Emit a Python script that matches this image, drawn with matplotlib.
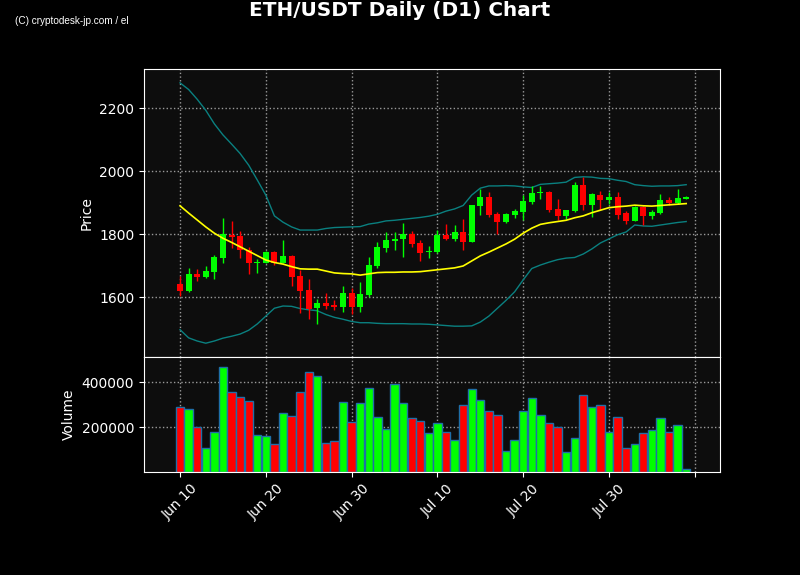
import numpy as np
import pandas as pd
import matplotlib
matplotlib.use('Agg')
import matplotlib.pyplot as plt
import matplotlib.dates as mdates

# daily candles, Jun 10 .. Aug 8
dates = pd.date_range('2023-06-10', periods=60, freq='D')

opens = [1641, 1620, 1673, 1664, 1680, 1725, 1797, 1794, 1751, 1708,
         1709, 1744, 1709, 1730, 1667, 1622, 1566, 1580, 1575, 1569,
         1612, 1569, 1606, 1699, 1757, 1779, 1785, 1800, 1772, 1742,
         1744, 1797, 1784, 1806, 1776, 1890, 1917, 1863, 1839, 1860,
         1871, 1903, 1929, 1933, 1879, 1857, 1874, 1956, 1891, 1924,
         1908, 1917, 1866, 1842, 1887, 1858, 1868, 1908, 1900, 1911]
highs = [1668, 1694, 1691, 1698, 1733, 1850, 1841, 1810, 1760, 1720,
         1747, 1745, 1781, 1733, 1686, 1659, 1594, 1612, 1590, 1637,
         1628, 1647, 1726, 1774, 1807, 1807, 1834, 1810, 1783, 1762,
         1813, 1832, 1828, 1847, 1893, 1943, 1934, 1869, 1866, 1879,
         1924, 1952, 1953, 1938, 1910, 1877, 1966, 1982, 1931, 1937,
         1934, 1934, 1874, 1889, 1889, 1878, 1926, 1919, 1942, 1921]
lows = [1604, 1615, 1652, 1661, 1657, 1710, 1757, 1725, 1672, 1678,
        1707, 1702, 1707, 1635, 1551, 1532, 1514, 1564, 1559, 1553,
        1548, 1553, 1601, 1693, 1744, 1749, 1728, 1760, 1714, 1723,
        1739, 1782, 1779, 1749, 1774, 1860, 1855, 1802, 1834, 1850,
        1844, 1897, 1910, 1869, 1844, 1847, 1871, 1878, 1855, 1878,
        1897, 1847, 1832, 1841, 1829, 1847, 1863, 1892, 1897, 1910]
closes = [1620, 1673, 1664, 1683, 1728, 1799, 1790, 1749, 1709, 1712,
          1744, 1709, 1730, 1665, 1620, 1564, 1580, 1571, 1569, 1612,
          1569, 1609, 1702, 1760, 1781, 1786, 1800, 1770, 1741, 1747,
          1797, 1784, 1806, 1776, 1892, 1917, 1860, 1839, 1863, 1873,
          1905, 1929, 1933, 1878, 1857, 1876, 1956, 1892, 1926, 1908,
          1917, 1860, 1842, 1887, 1857, 1869, 1908, 1900, 1914, 1919]
volumes = [290000, 278500, 198500, 105000, 176000, 465000, 354000, 335000, 314000, 163000,
           158500, 123000, 261000, 247500, 354000, 443000, 425000, 127500, 136000, 310000,
           221000, 305000, 372000, 243000, 190000, 390000, 305000, 238500, 226500, 172000,
           216000, 176000, 141000, 296000, 367500, 318500, 270000, 252000, 92000, 141000,
           270000, 327500, 252000, 216000, 198500, 87500, 150000, 341000, 287500, 296000,
           176000, 243000, 105000, 123000, 172000, 185000, 238500, 176000, 207500, 12000]

# indicator lines
sma20 = [1890, 1867, 1845, 1823, 1803, 1787, 1774, 1760, 1746, 1732,
         1718, 1710, 1705, 1697, 1690, 1689, 1689, 1683, 1677, 1675,
         1674, 1670, 1674, 1678, 1679, 1679, 1680, 1680, 1681, 1684,
         1687, 1690, 1693, 1699, 1715, 1731, 1743, 1756, 1769, 1784,
         1803, 1819, 1831, 1836, 1840, 1844, 1852, 1858, 1868, 1876,
         1884, 1887, 1889, 1892, 1890, 1889, 1891, 1893, 1895, 1897]
bb_upper = [2280, 2259, 2228, 2193, 2150, 2115, 2086, 2056, 2019, 1972,
            1924, 1858, 1838, 1823, 1813, 1813, 1813, 1818, 1821, 1822,
            1823, 1824, 1832, 1836, 1842, 1844, 1847, 1850, 1853, 1857,
            1863, 1873, 1880, 1891, 1924, 1946, 1953, 1953, 1954, 1953,
            1950, 1948, 1958, 1960, 1962, 1965, 1980, 1982, 1981, 1977,
            1976, 1971, 1967, 1957, 1954, 1952, 1953, 1953, 1954, 1957]
bb_lower = [1497, 1471, 1461, 1454, 1461, 1470, 1476, 1483, 1495, 1515,
            1540, 1565, 1572, 1571, 1564, 1560, 1557, 1545, 1536, 1530,
            1523, 1519, 1519, 1517, 1516, 1516, 1516, 1515, 1515, 1514,
            1512, 1510, 1508, 1508, 1509, 1521, 1540, 1565, 1590, 1617,
            1655, 1691, 1702, 1711, 1719, 1724, 1726, 1737, 1753, 1772,
            1785, 1798, 1807, 1829, 1826, 1825, 1829, 1833, 1837, 1840]

tick_dates = ['2023-06-10', '2023-06-20', '2023-06-30', '2023-07-10',
              '2023-07-20', '2023-07-30', '2023-08-09']
tick_labels = ['Jun 10', 'Jun 20', 'Jun 30', 'Jul 10', 'Jul 20', 'Jul 30', '']

x = mdates.date2num(dates)
o = np.array(opens)
c = np.array(closes)
up = c >= o
cols = np.where(up, '#00ff00', '#ff0000')

bg = '#0d0d0d'
grid_kw = dict(color='#9a9a9a', linestyle=':', linewidth=1)

fig = plt.figure(figsize=(8, 5.75), dpi=100, facecolor='black')
ax = fig.add_axes([0.18, 0.379, 0.72, 0.501])
axv = fig.add_axes([0.18, 0.179, 0.72, 0.2], sharex=ax)

for a in (ax, axv):
    a.set_facecolor(bg)
    for s in a.spines.values():
        s.set_color('white')
    a.tick_params(colors='white', labelsize=10)
    a.grid(True, **grid_kw)
    a.set_axisbelow(True)

# candles
ax.vlines(x, lows, highs, colors=cols, linewidth=1, zorder=2)
ax.bar(x, np.abs(c - o), 0.7, bottom=np.minimum(o, c), color=cols, zorder=3)

ax.plot(x, bb_upper, color='#0a8080', linewidth=1, zorder=1)
ax.plot(x, bb_lower, color='#0a8080', linewidth=1, zorder=1)
ax.plot(x, sma20, color='#ffff00', linewidth=1.2, zorder=4)

ax.set_ylim(1410, 2324)
ax.set_yticks([1600, 1800, 2000, 2200])
ax.set_ylabel('Price', color='white', fontsize=10)
ax.tick_params(labelbottom=False, bottom=False)

# volume
axv.bar(x, volumes, 0.97, color=cols, edgecolor='#1f6fa8', linewidth=1, zorder=2)
axv.set_ylim(0, 511000)
axv.set_yticks([200000, 400000])
axv.set_ylabel('Volume', color='white', fontsize=10)

axv.set_xlim(x[0] - 4.2, x[0] + 62.94)
axv.set_xticks(mdates.date2num(pd.to_datetime(tick_dates)))
axv.set_xticklabels(tick_labels, rotation=45)

fig.suptitle('ETH/USDT Daily (D1) Chart', color='white', fontsize=14.4,
             fontweight='bold', y=0.998)
fig.text(0.019, 0.963, '(C) cryptodesk-jp.com / el', color='white',
         fontsize=7.2, family='Liberation Sans', va='center')

fig.savefig('out.png', facecolor=fig.get_facecolor())
